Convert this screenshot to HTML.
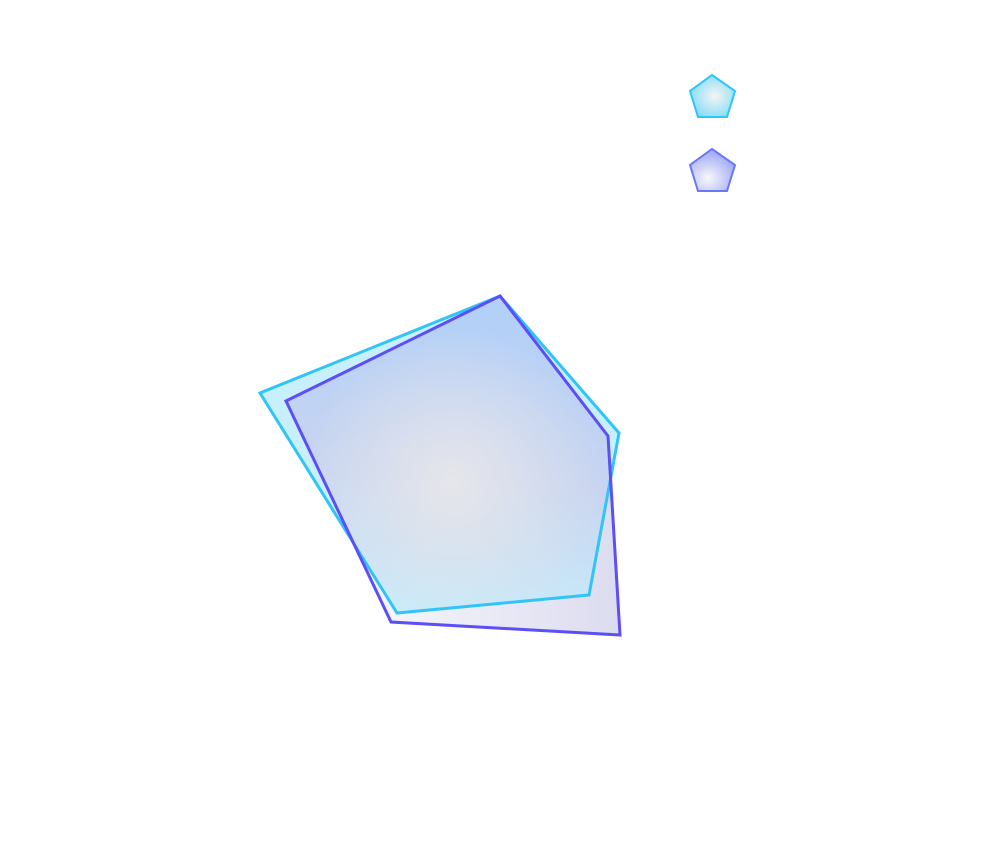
<!DOCTYPE html>
<html><head><style>html,body{margin:0;background:#fff}</style></head><body>
<svg width="1000" height="850" xmlns="http://www.w3.org/2000/svg">
<defs>
<radialGradient id="gc" cx="0.55" cy="0.6" r="0.6">
<stop offset="0" stop-color="#e6e6e8"/><stop offset="1" stop-color="#b2eaff"/></radialGradient>
<linearGradient id="gp" x1="0" y1="0" x2="1" y2="0">
<stop offset="0" stop-color="#ffffff"/><stop offset="1" stop-color="#dcdcf0"/></linearGradient>
<linearGradient id="glin" x1="0.3" y1="0" x2="0.2" y2="1">
<stop offset="0" stop-color="#b2d0f8"/><stop offset="0.5" stop-color="#c8d4f0"/><stop offset="1" stop-color="#c8f0fc"/></linearGradient>
<radialGradient id="gover" cx="0.5" cy="0.55" r="0.45">
<stop offset="0" stop-color="#e6e6ea" stop-opacity="1"/><stop offset="1" stop-color="#e6e6ea" stop-opacity="0"/></radialGradient>
<radialGradient id="lc" cx="0.55" cy="0.5" r="0.6"><stop offset="0" stop-color="#f4f4f4"/><stop offset="1" stop-color="#80dcf8"/></radialGradient>
<radialGradient id="lp" cx="0.4" cy="0.7" r="0.6"><stop offset="0" stop-color="#f8f8f8"/><stop offset="1" stop-color="#a8b0f8"/></radialGradient>
<clipPath id="cc"><polygon points="500,296 619,433 589,595 397,613 260,393"/></clipPath>
</defs>
<polygon points="500,296 608,436 620,635 391,622 286,401" fill="url(#gp)"/>
<polygon points="500,296 619,433 589,595 397,613 260,393" fill="#c8f0fc"/>
<g clip-path="url(#cc)">
<polygon points="500,296 608,436 620,635 391,622 286,401" fill="url(#glin)"/>
<polygon points="500,296 608,436 620,635 391,622 286,401" fill="url(#gover)"/>
</g>
<polygon points="500,296 619,433 589,595 397,613 260,393" fill="none" stroke="#30c4f8" stroke-width="3"/>
<polygon points="500,296 608,436 620,635 391,622 286,401" fill="none" stroke="#5c4ef8" stroke-width="3"/>
<polygon points="712,75 735,91 727,117 698,117 690,91" fill="url(#lc)" stroke="#30c4f8" stroke-width="2"/>
<polygon points="712,149 735,165 727,191 698,191 690,165" fill="url(#lp)" stroke="#6a78f8" stroke-width="2"/>
</svg>
</body></html>
